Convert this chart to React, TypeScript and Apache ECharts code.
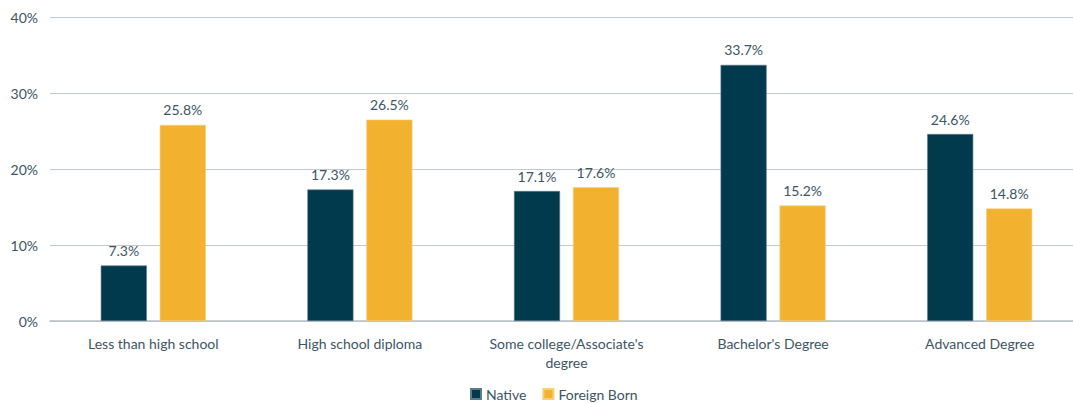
import React, { useEffect, useRef } from "react";
import * as echarts from "echarts";

const categories = [
  "Less than high school",
  "High school diploma",
  "Some college/Associate's\ndegree",
  "Bachelor's Degree",
  "Advanced Degree",
];
const nativeValues = [7.3, 17.3, 17.1, 33.7, 24.6];
const foreignValues = [25.8, 26.5, 17.6, 15.2, 14.8];
const yTicks = [0, 10, 20, 30, 40];

const textColor = "#3b5566";
const font = "Lato, 'Open Sans', sans-serif";

export default function App() {
  const ref = useRef<HTMLDivElement>(null);
  useEffect(() => {
    if (!ref.current) return;
    const chart = echarts.init(ref.current, null, { renderer: "svg" });
    chart.setOption({
      animation: false,
      textStyle: { fontFamily: font },
      grid: { left: 50, right: 0, top: 17, bottom: 82, containLabel: false },
      legend: {
        bottom: 2,
        left: 470,
        padding: 0,
        itemWidth: 10,
        itemHeight: 10,
        itemGap: 16,
        icon: "rect",
        textStyle: { color: textColor, fontSize: 14, fontFamily: font },
        data: ["Native", "Foreign Born"],
      },
      xAxis: {
        type: "category",
        data: categories,
        axisTick: { show: false },
        axisLine: { lineStyle: { color: "#b9c0c5", width: 1.5 } },
        axisLabel: {
          color: textColor,
          fontSize: 14,
          margin: 13,
          lineHeight: 19,
          interval: 0,
        },
      },
      yAxis: {
        type: "value",
        min: 0,
        max: 40,
        interval: 10,
        axisLabel: {
          color: textColor,
          fontSize: 14,
          margin: 12,
          formatter: (v: number) => (yTicks.includes(v) ? v + "%" : ""),
        },
        axisLine: { show: false },
        axisTick: { show: false },
        splitLine: { lineStyle: { color: "#c3cacf", width: 1 } },
      },
      series: [
        {
          name: "Native",
          type: "bar",
          data: nativeValues,
          barWidth: "22.3%",
          barGap: "28%",
          itemStyle: { color: "#013a4d", borderColor: "#5d7b88", borderWidth: 0.6 },
          label: {
            show: true,
            position: "top",
            distance: 8,
            color: textColor,
            fontSize: 14,
            formatter: (p: any) => p.value.toFixed(1) + "%",
          },
        },
        {
          name: "Foreign Born",
          type: "bar",
          data: foreignValues,
          barWidth: "22.3%",
          itemStyle: { color: "#f2b230", borderColor: "#f6cf7e", borderWidth: 0.6 },
          label: {
            show: true,
            position: "top",
            distance: 8,
            color: textColor,
            fontSize: 14,
            formatter: (p: any) => p.value.toFixed(1) + "%",
          },
        },
      ],
    });
    return () => chart.dispose();
  }, []);
  return (
    <div
      style={{
        position: "absolute",
        left: 0,
        top: 0,
        width: 1073,
        height: 403,
        overflow: "hidden",
      }}
    >
      <div ref={ref} style={{ width: 1083, height: 403 }} />
    </div>
  );
}
